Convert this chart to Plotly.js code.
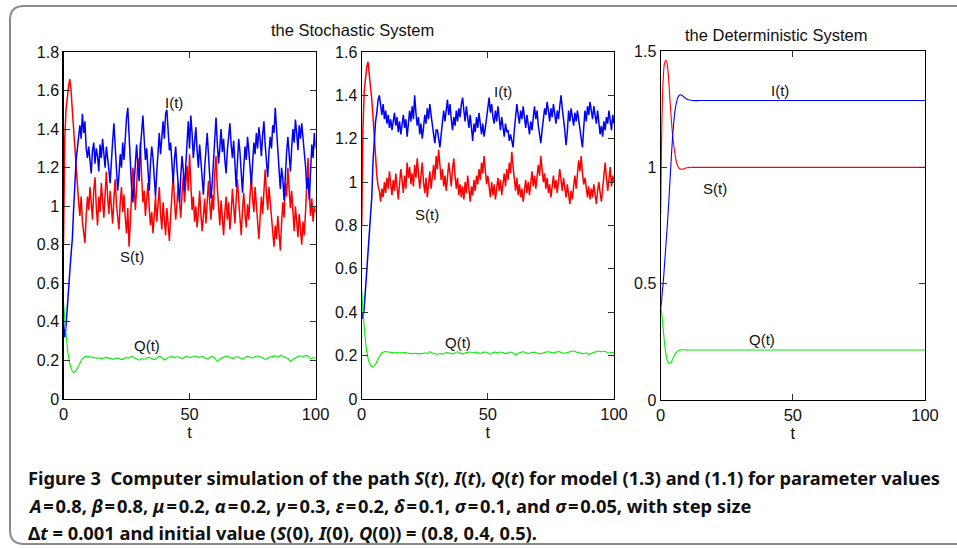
<!DOCTYPE html>
<html>
<head>
<meta charset="utf-8">
<script src="https://cdn.plot.ly/plotly-3.0.1.min.js"></script>
<style>
html,body{margin:0;padding:0;background:#fff;}
#chart{width:957px;height:548px;}
</style>
</head>
<body>
<div id="chart"></div>
<script>
// ---------- DATA ----------
// sampling grids (time, t)
const tStoch = Array.from({length: 201}, (_, i) => i * 0.5);   // 0, 0.5, ..., 100
const tQ = Array.from({length: 101}, (_, i) => i);             // 0, 1, ..., 100
const tDet = [0,0.1,0.5,1,1.5,2,2.5,3,3.5,4,4.5,5,5.5,6,6.5,7,7.5,8,8.5,9,10,11,12,15,20,30,40,50,60,70,80,90,100];

// Panel 1: stochastic system (sigma = 0.1)
const S1 = [
0.80,1.35,1.50,1.58,1.62,1.66,1.60,1.50,1.40,1.30,
1.20,1.08,1.02,0.95,1.05,0.92,0.86,0.81,0.95,1.05,
0.98,1.10,1.02,0.93,1.08,1.15,1.00,0.90,1.05,0.97,
1.12,1.03,0.94,1.06,1.18,1.05,0.96,1.08,0.99,0.91,
1.04,1.14,1.01,0.92,0.88,1.02,1.10,0.97,1.06,0.94,
0.86,0.99,0.79,0.92,1.08,1.20,1.12,0.98,1.10,1.25,
1.18,1.33,1.15,1.02,1.08,0.95,1.04,1.12,0.99,0.90,
0.97,0.86,0.95,1.05,0.92,1.01,1.10,0.96,0.88,1.02,
0.94,0.85,0.99,0.90,0.82,0.95,1.07,1.16,1.04,0.93,
1.01,1.12,1.03,0.94,1.06,1.15,1.02,1.10,1.21,1.08,
1.27,1.12,0.98,1.05,0.92,1.00,0.89,0.97,1.08,0.96,
0.87,0.95,1.04,0.91,1.00,1.13,1.02,0.93,1.06,0.98,
1.17,1.26,1.10,0.99,0.90,1.03,0.94,0.85,0.97,1.05,
0.93,1.02,0.88,0.96,1.09,1.00,0.91,1.04,1.14,1.03,
0.95,0.85,0.98,1.07,0.96,0.89,1.01,0.93,1.06,1.15,
1.04,0.97,1.10,1.00,0.90,0.83,0.94,1.05,0.96,1.08,
1.19,1.07,0.98,1.10,1.02,0.92,0.86,0.79,0.90,0.83,
0.95,0.88,0.77,0.91,1.02,0.94,1.12,1.05,1.20,1.09,
0.99,1.08,0.95,0.87,1.00,0.90,0.84,0.96,0.88,0.80,
0.92,0.85,0.97,1.10,1.25,1.08,0.95,1.04,0.92,1.00,
0.97];
const I1 = [
0.40,0.32,0.38,0.46,0.56,0.66,0.75,0.83,0.98,1.12,
1.24,1.30,1.36,1.42,1.35,1.48,1.38,1.44,1.30,1.25,
1.31,1.24,1.17,1.29,1.33,1.22,1.30,1.26,1.18,1.32,
1.25,1.35,1.28,1.20,1.31,1.26,1.19,1.12,1.25,1.34,
1.43,1.30,1.21,1.08,1.16,1.27,1.20,1.33,1.24,1.38,
1.46,1.51,1.35,1.22,1.10,1.02,1.14,1.25,1.32,1.21,
1.13,1.30,1.42,1.47,1.35,1.24,1.30,1.19,1.08,1.22,
1.31,1.25,1.14,1.05,1.18,1.29,1.38,1.27,1.36,1.44,
1.35,1.48,1.50,1.38,1.29,1.33,1.22,1.12,1.24,1.31,
1.20,1.10,1.02,1.15,1.26,1.19,1.08,1.21,1.35,1.44,
1.30,1.47,1.38,1.25,1.33,1.41,1.29,1.20,1.32,1.24,
1.15,1.06,1.20,1.31,1.38,1.27,1.18,1.04,1.12,1.25,
1.36,1.46,1.33,1.22,1.30,1.40,1.28,1.35,1.24,1.17,
1.29,1.38,1.43,1.32,1.25,1.34,1.21,1.10,1.23,1.35,
1.28,1.18,1.07,1.20,1.31,1.24,1.36,1.29,1.18,1.11,
1.22,1.33,1.27,1.38,1.30,1.41,1.35,1.26,1.37,1.44,
1.32,1.22,1.15,1.28,1.36,1.30,1.42,1.38,1.51,1.40,
1.31,1.23,1.09,1.20,1.14,1.03,1.17,1.28,1.36,1.25,
1.18,1.30,1.40,1.33,1.45,1.38,1.29,1.42,1.35,1.43,
1.37,1.28,1.21,1.09,1.15,1.03,1.18,1.32,1.25,1.38,
1.30];
const Q1 = [
0.50,0.34,0.22,0.160,0.137,0.148,0.172,0.198,0.215,0.222,
0.220,0.218,0.215,0.212,0.214,0.210,0.213,0.216,0.212,0.209,
0.206,0.212,0.210,0.205,0.209,0.215,0.212,0.222,0.214,0.208,
0.202,0.210,0.206,0.212,0.216,0.209,0.205,0.213,0.221,0.214,
0.203,0.211,0.218,0.220,0.214,0.219,0.216,0.210,0.217,0.222,
0.215,0.218,0.222,0.219,0.216,0.221,0.214,0.208,0.215,0.220,
0.212,0.197,0.206,0.214,0.219,0.222,0.216,0.210,0.215,0.219,
0.213,0.207,0.215,0.220,0.217,0.212,0.219,0.223,0.218,0.214,
0.206,0.212,0.218,0.221,0.224,0.217,0.226,0.222,0.215,0.210,
0.196,0.205,0.213,0.220,0.224,0.218,0.226,0.222,0.210,0.214,
0.212];

// Panel 2: stochastic system (sigma = 0.05)
const S2 = [
0.80,1.25,1.42,1.49,1.53,1.555,1.50,1.45,1.38,1.30,
1.21,1.10,1.03,0.98,0.96,0.91,0.97,0.93,1.00,0.95,
1.02,0.97,1.05,0.99,0.94,1.01,0.96,1.04,0.98,0.92,
0.99,1.06,1.01,0.95,1.03,0.97,1.09,1.02,1.07,0.99,
1.04,0.98,1.08,1.02,1.11,1.05,0.97,1.03,1.09,1.00,
0.95,1.02,0.93,0.99,1.05,0.97,1.02,1.08,1.01,1.12,
1.06,1.15,1.08,1.01,1.06,0.98,1.03,0.96,1.02,1.09,
1.04,0.98,1.06,1.11,1.03,0.97,1.02,0.94,0.99,0.93,
0.98,0.92,1.00,0.95,1.03,0.97,0.91,0.98,0.94,1.01,
0.96,1.03,0.99,1.06,1.01,1.09,1.04,1.12,1.05,0.99,
1.03,0.97,0.93,1.00,0.94,0.99,0.92,0.97,1.02,0.96,
1.01,0.94,0.99,1.04,0.98,1.06,1.01,1.09,1.04,1.14,
1.07,1.01,0.96,1.02,0.94,0.99,0.93,0.97,0.91,0.96,
1.01,0.95,1.00,0.94,0.99,1.05,0.98,1.03,0.97,1.02,
1.08,1.03,1.12,1.06,1.00,1.04,0.97,1.02,0.95,0.99,
0.93,0.98,1.03,0.97,1.01,0.95,1.00,1.06,1.01,0.96,
1.02,0.97,0.93,0.99,0.94,0.90,0.96,0.92,0.98,1.03,
0.97,1.03,1.10,1.05,1.12,1.04,0.99,1.02,0.96,0.93,
0.98,0.92,0.97,0.93,0.99,0.94,0.90,0.96,1.00,0.95,
0.91,0.97,1.04,1.09,1.02,0.96,1.01,1.07,0.98,1.03,
1.00];
const I2 = [
0.40,0.37,0.42,0.50,0.59,0.68,0.78,0.85,0.93,1.10,
1.22,1.28,1.32,1.38,1.40,1.34,1.31,1.36,1.29,1.33,
1.27,1.31,1.25,1.29,1.24,1.28,1.32,1.26,1.30,1.23,
1.28,1.22,1.26,1.31,1.25,1.29,1.21,1.27,1.33,1.28,
1.35,1.29,1.40,1.32,1.26,1.30,1.22,1.27,1.20,1.25,
1.31,1.27,1.34,1.29,1.36,1.31,1.25,1.22,1.18,1.24,
1.24,1.19,1.16,1.22,1.29,1.33,1.28,1.35,1.38,1.31,
1.36,1.29,1.24,1.30,1.26,1.33,1.28,1.34,1.30,1.36,
1.39,1.33,1.28,1.35,1.30,1.25,1.31,1.24,1.19,1.27,
1.23,1.30,1.25,1.32,1.28,1.22,1.27,1.21,1.25,1.30,
1.34,1.39,1.32,1.36,1.30,1.27,1.33,1.28,1.35,1.29,
1.24,1.30,1.26,1.21,1.27,1.23,1.24,1.19,1.22,1.18,
1.16,1.24,1.29,1.36,1.31,1.27,1.33,1.29,1.35,1.30,
1.25,1.31,1.27,1.22,1.28,1.24,1.30,1.35,1.29,1.33,
1.26,1.22,1.18,1.24,1.29,1.34,1.31,1.37,1.33,1.28,
1.34,1.30,1.36,1.32,1.27,1.33,1.29,1.35,1.40,1.34,
1.30,1.24,1.17,1.23,1.33,1.28,1.34,1.30,1.26,1.32,
1.28,1.33,1.29,1.24,1.20,1.16,1.25,1.33,1.28,1.35,
1.31,1.37,1.33,1.29,1.35,1.31,1.27,1.33,1.28,1.22,
1.26,1.21,1.28,1.24,1.30,1.27,1.33,1.29,1.24,1.31,
1.27];
const Q2 = [
0.50,0.33,0.22,0.168,0.150,0.153,0.172,0.196,0.212,0.218,
0.218,0.216,0.214,0.213,0.214,0.212,0.213,0.214,0.212,0.210,
0.209,0.211,0.210,0.208,0.210,0.213,0.210,0.218,0.212,0.209,
0.206,0.210,0.208,0.212,0.214,0.210,0.208,0.213,0.218,0.212,
0.208,0.212,0.215,0.217,0.213,0.216,0.214,0.210,0.215,0.217,
0.213,0.207,0.214,0.216,0.213,0.217,0.214,0.209,0.213,0.217,
0.212,0.205,0.210,0.215,0.218,0.214,0.210,0.213,0.216,0.214,
0.210,0.208,0.213,0.216,0.218,0.215,0.212,0.216,0.219,0.215,
0.210,0.213,0.216,0.219,0.221,0.217,0.214,0.211,0.208,0.213,
0.206,0.210,0.215,0.218,0.221,0.218,0.220,0.217,0.212,0.215,
0.213];

// Panel 3: deterministic system
const S3 = [0.80,0.90,1.22,1.39,1.45,1.46,1.44,1.38,1.29,1.21,1.14,1.09,1.05,1.02,1.005,0.996,0.993,0.992,0.993,0.995,0.998,1.0,1.0,1.0,1.0,1.0,1.0,1.0,1.0,1.0,1.0,1.0,1.0];
const I3 = [0.40,0.40,0.45,0.51,0.59,0.67,0.75,0.84,0.94,1.04,1.13,1.20,1.25,1.28,1.30,1.31,1.312,1.31,1.305,1.30,1.293,1.289,1.287,1.287,1.287,1.287,1.287,1.287,1.287,1.287,1.287,1.287,1.287];
const Q3 = [0.50,0.40,0.36,0.30,0.24,0.195,0.17,0.16,0.158,0.163,0.175,0.187,0.198,0.206,0.211,0.214,0.215,0.216,0.216,0.216,0.215,0.215,0.215,0.215,0.215,0.215,0.215,0.215,0.215,0.215,0.215,0.215,0.215];

const xTicks = [0, 50, 100];
const panelTitles = ['the Stochastic System', 'the Deterministic System'];
const curveLabels = ['I(t)', 'S(t)', 'Q(t)'];
const EQ = '\u200A=\u200A';   // tight spacing around "=" as in the printed caption
const captionLines = [
  '<b>Figure 3  Computer simulation of the path <i>S</i>(<i>t</i>), <i>I</i>(<i>t</i>), <i>Q</i>(<i>t</i>) for model (1.3) and (1.1) for parameter values</b>',
  `<b><i>A</i>${EQ}0.8, <i>β</i>${EQ}0.8, <i>μ</i>${EQ}0.2, <i>α</i>${EQ}0.2, <i>γ</i>${EQ}0.3, <i>ε</i>${EQ}0.2, <i>δ</i>${EQ}0.1, <i>σ</i>${EQ}0.1, and <i>σ</i>${EQ}0.05, with step size</b>`,
  '<b>Δ<i>t</i> = 0.001 and initial value (<i>S</i>(0), <i>I</i>(0), <i>Q</i>(0)) = (0.8, 0.4, 0.5).</b>'
];

// ---------- LAYOUT / STYLE ----------
const W = 957, H = 548;
const px = v => v / W;
const py = v => 1 - v / H;
const RED = '#ff0000', BLUE = '#0000ff', GREEN = '#00ee00';
const FONT = 'Liberation Sans, Arial, Helvetica, sans-serif';
const CAPFONT = 'Noto Sans, sans-serif';

function line(x, y, color, width, xa, ya, shape) {
  return {x: x, y: y, type: 'scatter', mode: 'lines', xaxis: xa, yaxis: ya,
          line: {color: color, width: width, shape: shape || 'linear'}, hoverinfo: 'skip'};
}

const data = [
  line(tStoch, S1, RED, 1.5, 'x', 'y'),
  line(tStoch, I1, BLUE, 1.5, 'x', 'y'),
  line(tQ, Q1, GREEN, 1.1, 'x', 'y', 'spline'),
  line(tStoch, S2, RED, 1.5, 'x2', 'y2'),
  line(tStoch, I2, BLUE, 1.5, 'x2', 'y2'),
  line(tQ, Q2, GREEN, 1.1, 'x2', 'y2', 'spline'),
  line(tDet, S3, RED, 1.1, 'x3', 'y3', 'spline'),
  line(tDet, I3, BLUE, 1.1, 'x3', 'y3', 'spline'),
  line(tDet, Q3, GREEN, 1.1, 'x3', 'y3', 'spline')
];

function xax(dom, anchor) {
  return {domain: dom, anchor: anchor, range: [0, 100], tickvals: xTicks,
    ticks: 'inside', ticklen: 6, tickcolor: '#333', showline: true, linecolor: '#000', linewidth: 1.2,
    mirror: 'ticks', showgrid: false, zeroline: false,
    tickfont: {family: FONT, size: 16.5, color: '#111'},
    title: {text: 't', font: {family: FONT, size: 16.5, color: '#111'}, standoff: 0}};
}
function yax(dom, anchor, top, dt) {
  return {domain: dom, anchor: anchor, range: [0, top], dtick: dt, tick0: 0,
    ticks: 'inside', ticklen: 6, tickcolor: '#333', showline: true, linecolor: '#000', linewidth: 1.2,
    mirror: 'ticks', showgrid: false, zeroline: false,
    tickfont: {family: FONT, size: 16, color: '#111'}};
}

const labFont = {family: FONT, size: 15, color: '#111'};
function lab(text, xref, yref, x, y) {
  return {text: text, xref: xref, yref: yref, x: x, y: y, showarrow: false, font: labFont};
}

const annotations = [
  {text: panelTitles[0], xref: 'paper', yref: 'paper', x: px(352), y: py(30), xanchor: 'center', yanchor: 'middle', showarrow: false, font: {family: FONT, size: 16.5, color: '#111'}},
  {text: panelTitles[1], xref: 'paper', yref: 'paper', x: px(776), y: py(35), xanchor: 'center', yanchor: 'middle', showarrow: false, font: {family: FONT, size: 16.5, color: '#111'}},
  lab(curveLabels[0], 'x', 'y', 44, 1.54),
  lab(curveLabels[1], 'x', 'y', 27, 0.74),
  lab(curveLabels[2], 'x', 'y', 33, 0.28),
  lab(curveLabels[0], 'x2', 'y2', 56, 1.42),
  lab(curveLabels[1], 'x2', 'y2', 26, 0.85),
  lab(curveLabels[2], 'x2', 'y2', 38, 0.26),
  lab(curveLabels[0], 'x3', 'y3', 45, 1.33),
  lab(curveLabels[1], 'x3', 'y3', 20.5, 0.91),
  lab(curveLabels[2], 'x3', 'y3', 38.5, 0.26)
];
const capY = [477, 505, 532];
captionLines.forEach((t, i) => {
  annotations.push({text: t, xref: 'paper', yref: 'paper', x: px(26), y: py(capY[i]),
    xanchor: 'left', yanchor: 'middle', showarrow: false, align: 'left',
    font: {family: CAPFONT, size: 18.3, color: '#111'}});
});

// rounded frame around the figure
const fl = 10, ft = 6, fr = 975, fb = 544, rr = 14;
const framePath = `M ${px(fl + rr)} ${py(ft)} L ${px(fr - rr)} ${py(ft)} Q ${px(fr)} ${py(ft)} ${px(fr)} ${py(ft + rr)} ` +
  `L ${px(fr)} ${py(fb - rr)} Q ${px(fr)} ${py(fb)} ${px(fr - rr)} ${py(fb)} L ${px(fl + rr)} ${py(fb)} ` +
  `Q ${px(fl)} ${py(fb)} ${px(fl)} ${py(fb - rr)} L ${px(fl)} ${py(ft + rr)} Q ${px(fl)} ${py(ft)} ${px(fl + rr)} ${py(ft)} Z`;

const layout = {
  width: W, height: H, margin: {l: 0, r: 0, t: 0, b: 0},
  paper_bgcolor: '#fff', plot_bgcolor: '#fff', showlegend: false,
  xaxis: xax([px(63.5), px(315.6)], 'y'),
  yaxis: yax([1 - 399 / H, 1 - 52 / H], 'x', 1.8, 0.2),
  xaxis2: xax([px(361.7), px(614)], 'y2'),
  yaxis2: yax([1 - 399 / H, 1 - 52 / H], 'x2', 1.6, 0.2),
  xaxis3: xax([px(660.7), px(925)], 'y3'),
  yaxis3: yax([1 - 400 / H, 1 - 51 / H], 'x3', 1.5, 0.5),
  annotations: annotations,
  shapes: [{type: 'path', xref: 'paper', yref: 'paper', path: framePath, line: {color: '#8a8a8a', width: 2}, layer: 'below'}]
};

Plotly.newPlot('chart', data, layout, {staticPlot: true, displayModeBar: false});
</script>
</body>
</html>
